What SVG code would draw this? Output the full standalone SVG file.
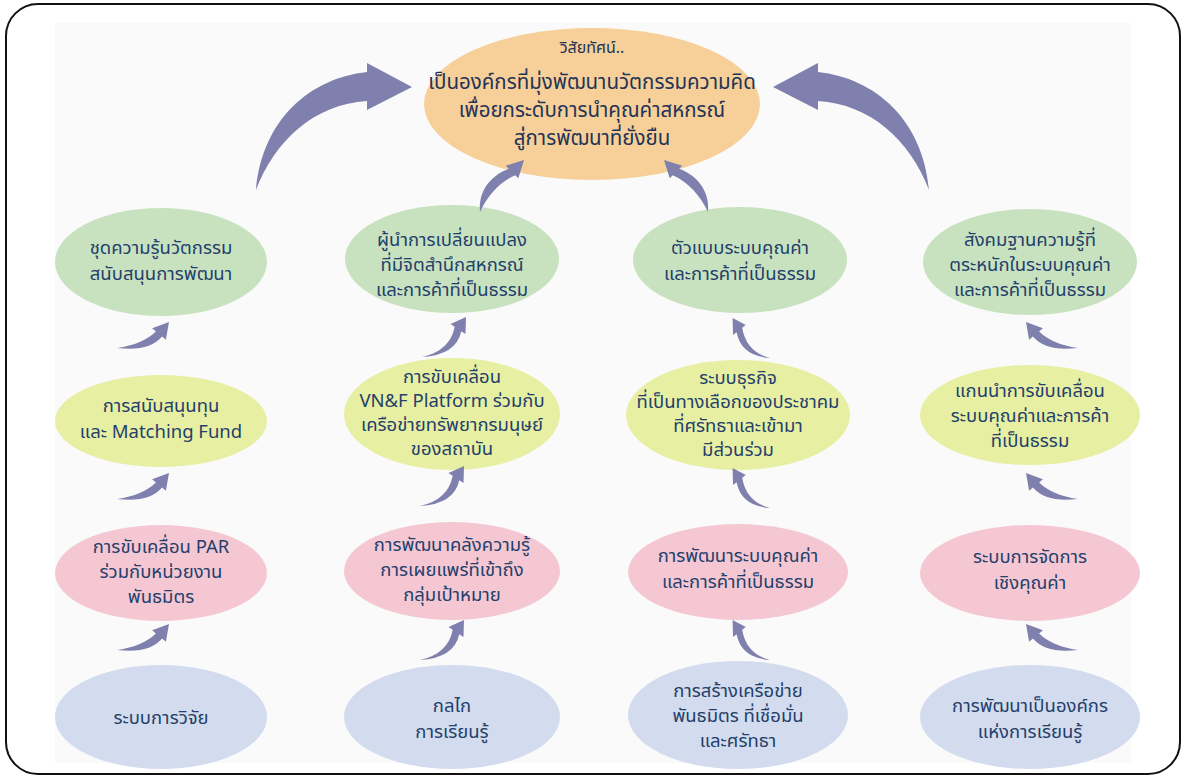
<svg xmlns="http://www.w3.org/2000/svg" width="1185" height="778" viewBox="0 0 1185 778">
<style>
.t{font-family:"Noto Sans Thai","Noto Sans Thai Looped","Noto Sans",sans-serif;fill:#243f6b;text-anchor:middle;font-size:18.5px}
.tt{font-size:20.5px;fill:#1f3457}
.ts{font-size:16px;fill:#1f3457}
.g{fill:#c8e2c0}.y{fill:#e7efa3}.p{fill:#f4c7d3}.b{fill:#d3dcee}.o{fill:#f7cf98}
.ar{fill:#8080ae}
</style>
<defs>
<path id="a1" d="M0 0 Q32 4 45.1 -11.4 L48.9 -8.2 L52 -26 L35.1 -19.8 L38.9 -16.6 Q26 -4 0 0Z"/>
<path id="a2" d="M0 0 Q34 -2 39.3 -25.8 L43.5 -23 L44 -40 L28.5 -33 L32.7 -30.2 Q28 -6 0 0Z"/>
</defs>
<rect x="0" y="0" width="1185" height="778" fill="#fff"/>
<rect x="55" y="23" width="1076" height="740" fill="#fafafa"/>
<rect x="6" y="4" width="1174" height="770" rx="32" fill="none" stroke="#111" stroke-width="2"/>

<g id="vision">
<ellipse class="o" cx="592" cy="104" rx="168" ry="76"/>
<text class="t ts" x="592" y="53">วิสัยทัศน์..</text>
<text class="t tt" x="592" y="89">เป็นองค์กรที่มุ่งพัฒนานวัตกรรมความคิด</text>
<text class="t tt" x="592" y="117">เพื่อยกระดับการนำคุณค่าสหกรณ์</text>
<text class="t tt" x="592" y="145">สู่การพัฒนาที่ยั่งยืน</text>
</g>

<g id="c1-green"><ellipse class="g" cx="161" cy="262" rx="106" ry="54"/>
<text class="t" x="161" y="254">ชุดความรู้นวัตกรรม</text><text class="t" x="161" y="280">สนับสนุนการพัฒนา</text></g>
<g id="c1-yellow"><ellipse class="y" cx="161" cy="421" rx="106" ry="46"/>
<text class="t" x="161" y="412">การสนับสนุนทุน</text><text class="t" x="161" y="438">และ Matching Fund</text></g>
<g id="c1-pink"><ellipse class="p" cx="161" cy="573" rx="106" ry="48"/>
<text class="t" x="161" y="553">การขับเคลื่อน PAR</text><text class="t" x="161" y="578">ร่วมกับหน่วยงาน</text><text class="t" x="161" y="603">พันธมิตร</text></g>
<g id="c1-blue"><ellipse class="b" cx="161" cy="717" rx="106" ry="52"/>
<text class="t" x="161" y="724">ระบบการวิจัย</text></g>

<g id="c2-green"><ellipse class="g" cx="452" cy="259" rx="107" ry="54"/>
<text class="t" x="452" y="246">ผู้นำการเปลี่ยนแปลง</text><text class="t" x="452" y="271">ที่มีจิตสำนึกสหกรณ์</text><text class="t" x="452" y="296">และการค้าที่เป็นธรรม</text></g>
<g id="c2-yellow"><ellipse class="y" cx="452" cy="414" rx="108" ry="56"/>
<text class="t" x="452" y="383">การขับเคลื่อน</text><text class="t" x="452" y="407">VN&amp;F Platform ร่วมกับ</text><text class="t" x="452" y="431">เครือข่ายทรัพยากรมนุษย์</text><text class="t" x="452" y="455">ของสถาบัน</text></g>
<g id="c2-pink"><ellipse class="p" cx="452" cy="571" rx="108" ry="49"/>
<text class="t" x="452" y="551">การพัฒนาคลังความรู้</text><text class="t" x="452" y="576">การเผยแพร่ที่เข้าถึง</text><text class="t" x="452" y="601">กลุ่มเป้าหมาย</text></g>
<g id="c2-blue"><ellipse class="b" cx="452" cy="717" rx="108" ry="52"/>
<text class="t" x="452" y="712">กลไก</text><text class="t" x="452" y="738">การเรียนรู้</text></g>

<g id="c3-green"><ellipse class="g" cx="740" cy="260" rx="107" ry="53"/>
<text class="t" x="740" y="254">ตัวแบบระบบคุณค่า</text><text class="t" x="740" y="280">และการค้าที่เป็นธรรม</text></g>
<g id="c3-yellow"><ellipse class="y" cx="738" cy="415" rx="112" ry="55"/>
<text class="t" x="738" y="384">ระบบธุรกิจ</text><text class="t" x="738" y="408">ที่เป็นทางเลือกของประชาคม</text><text class="t" x="738" y="432">ที่ศรัทธาและเข้ามา</text><text class="t" x="738" y="456">มีส่วนร่วม</text></g>
<g id="c3-pink"><ellipse class="p" cx="738" cy="572" rx="110" ry="48"/>
<text class="t" x="738" y="562">การพัฒนาระบบคุณค่า</text><text class="t" x="738" y="588">และการค้าที่เป็นธรรม</text></g>
<g id="c3-blue"><ellipse class="b" cx="738" cy="715" rx="110" ry="54"/>
<text class="t" x="738" y="697">การสร้างเครือข่าย</text><text class="t" x="738" y="722">พันธมิตร ที่เชื่อมั่น</text><text class="t" x="738" y="747">และศรัทธา</text></g>

<g id="c4-green"><ellipse class="g" cx="1030" cy="262" rx="107" ry="53"/>
<text class="t" x="1030" y="246">สังคมฐานความรู้ที่</text><text class="t" x="1030" y="271">ตระหนักในระบบคุณค่า</text><text class="t" x="1030" y="296">และการค้าที่เป็นธรรม</text></g>
<g id="c4-yellow"><ellipse class="y" cx="1030" cy="415" rx="110" ry="50"/>
<text class="t" x="1030" y="397">แกนนำการขับเคลื่อน</text><text class="t" x="1030" y="422">ระบบคุณค่าและการค้า</text><text class="t" x="1030" y="447">ที่เป็นธรรม</text></g>
<g id="c4-pink"><ellipse class="p" cx="1030" cy="573" rx="110" ry="48"/>
<text class="t" x="1030" y="563">ระบบการจัดการ</text><text class="t" x="1030" y="589">เชิงคุณค่า</text></g>
<g id="c4-blue"><ellipse class="b" cx="1030" cy="717" rx="110" ry="52"/>
<text class="t" x="1030" y="712">การพัฒนาเป็นองค์กร</text><text class="t" x="1030" y="738">แห่งการเรียนรู้</text></g>

<g id="connectors" class="ar">
<path d="M256 190 C262 120 310 78 367 72 L367 63 L412 87 L367 110 L367 101 C315 104 275 140 256 190Z"/>
<path transform="translate(1185,0) scale(-1,1)" d="M256 190 C262 120 310 78 367 72 L367 63 L412 87 L367 110 L367 101 C315 104 275 140 256 190Z"/>
<path d="M480 212 C478 190 492 175 508.8 168.8 L505.7 165.7 L524 160 L518.3 178.3 L515.2 175.2 C500 182 488 195 480 212Z"/>
<path transform="translate(1188,0) scale(-1,1)" d="M480 212 C478 190 492 175 508.8 168.8 L505.7 165.7 L524 160 L518.3 178.3 L515.2 175.2 C500 182 488 195 480 212Z"/>
<use href="#a1" transform="translate(117,348)"/>
<use href="#a1" transform="translate(117,499)"/>
<use href="#a1" transform="translate(117,650)"/>
<use href="#a2" transform="translate(422,357)"/>
<use href="#a2" transform="translate(420,506)"/>
<use href="#a2" transform="translate(420,660)"/>
<use href="#a2" transform="translate(770,358) scale(-0.85,1)"/>
<use href="#a2" transform="translate(770,508) scale(-0.85,1)"/>
<use href="#a2" transform="translate(770,660) scale(-0.85,1)"/>
<use href="#a1" transform="translate(1078,348) scale(-1,1)"/>
<use href="#a1" transform="translate(1078,499) scale(-1,1)"/>
<use href="#a1" transform="translate(1078,650) scale(-1,1)"/>
</g>
</svg>
